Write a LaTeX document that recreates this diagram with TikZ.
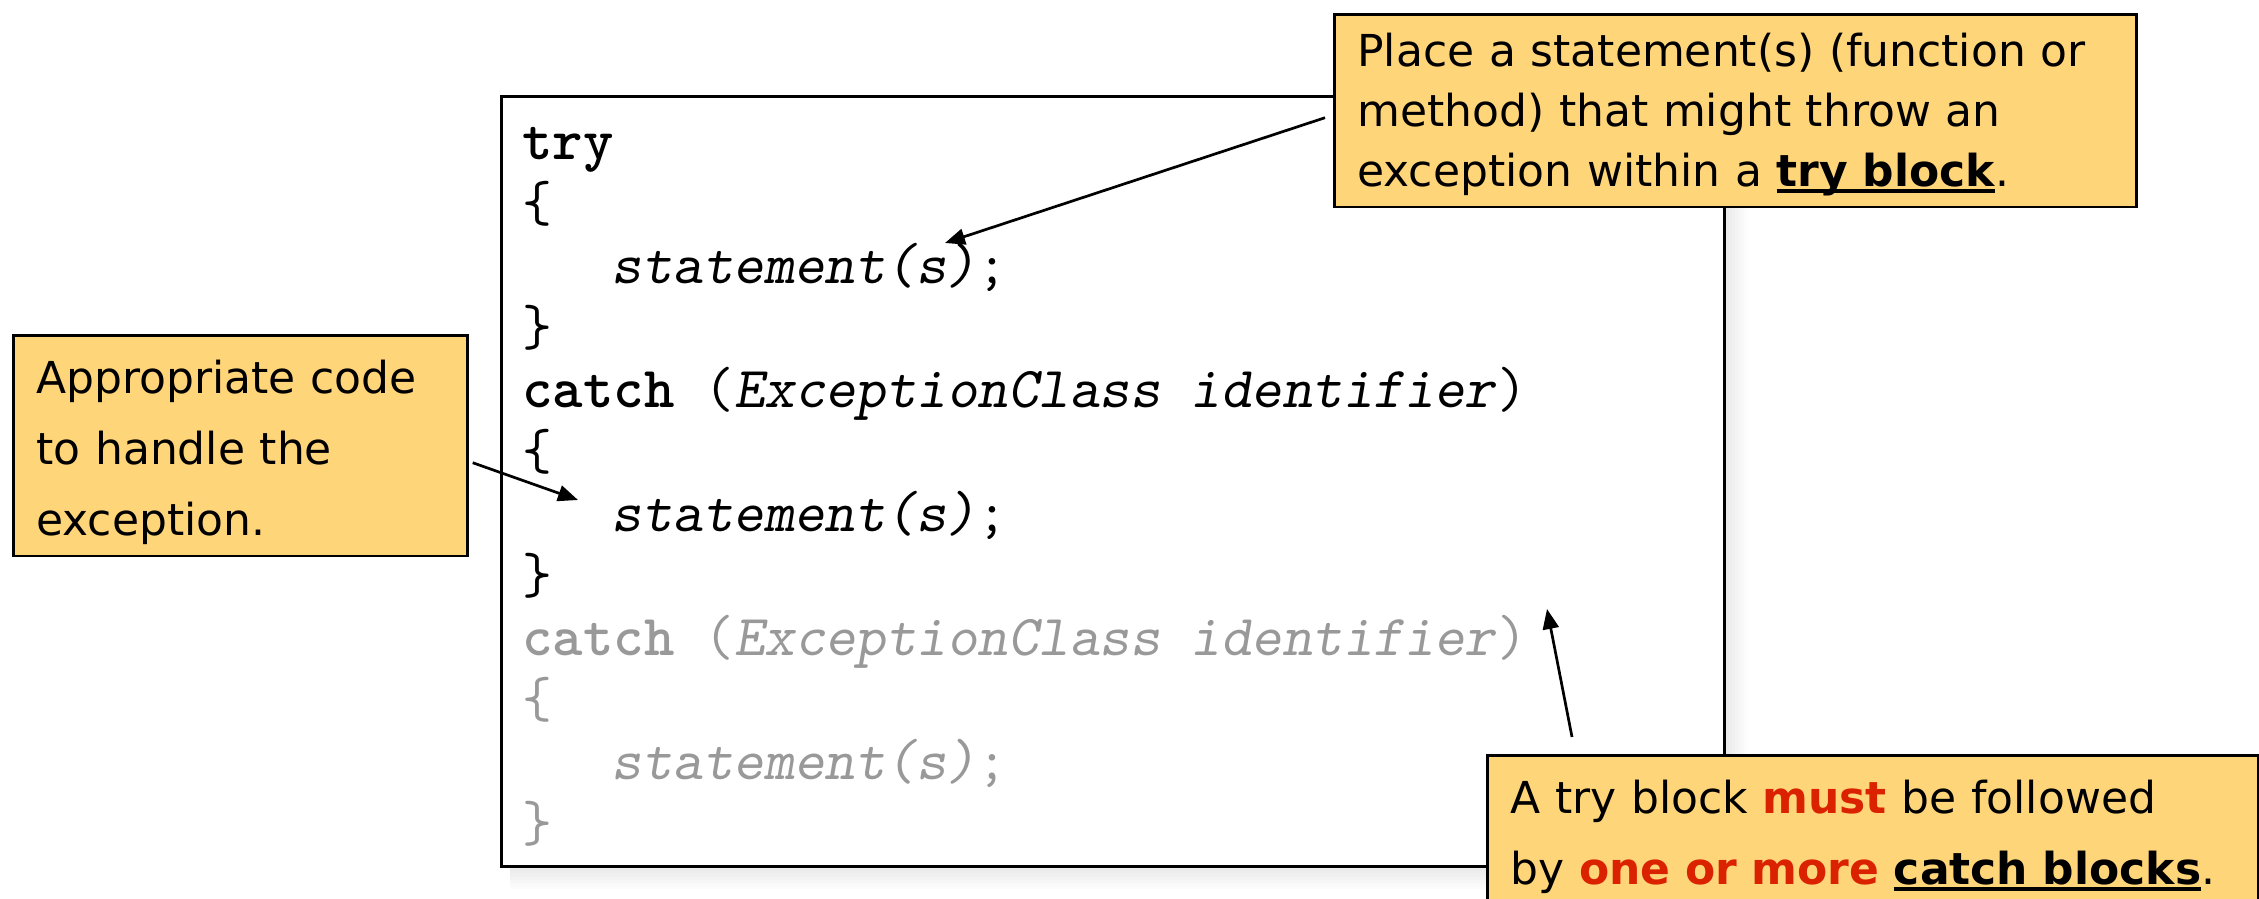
\documentclass[tikz,border=0pt]{standalone}
\usepackage{fontspec}
\newfontfamily\notefont{DejaVu Sans}
\usetikzlibrary{arrows.meta}

\definecolor{notefill}{RGB}{255,213,122}
\definecolor{notered}{RGB}{218,34,0}
\definecolor{codegray}{RGB}{153,153,153}

% bold text with a thick underline
\newcommand{\ulbf}[1]{\setbox0\hbox{\bfseries #1}\dp0=0pt\vtop{\box0\kern2.5pt\hrule height 4pt}}

\begin{document}
\begin{tikzpicture}[
            x=1pt, y=1pt,
            codebox/.style={draw, line width=3pt, fill=white, inner sep=0pt,
            minimum width=1223pt, minimum height=770pt},
            codeline/.style={anchor=base west, inner sep=0pt,
            font=\ttfamily\fontsize{58}{62}\selectfont},
            grayline/.style={codeline, text=codegray},
            note/.style={draw, line width=2.7pt, fill=notefill, anchor=north west,
            inner xsep=23pt, inner ysep=11.6pt, align=left,
            font=\notefont\fontsize{44}{71}\selectfont},
            pointer/.style={line width=2.7pt, -{Triangle[length=20pt,width=16pt]}}
            ]
            \useasboundingbox (0,0) rectangle (2259,899);
            \clip (0,0) rectangle (2259,899);
            \fill[white] (0,0) rectangle (2259,899);

            % shadow and code box
            \node[codebox, draw=none, fill=none] (code) at (1112.5,417) {};
            \foreach \k in {3,6,...,21}
                \fill[black, opacity=0.012] ([shift={(10,-\k)}]code.south west)
                    rectangle ([shift={(\k,-10)}]code.north east);
            \node[codebox] at (code) {};

            % code lines
            \foreach \txt [count=\i] in {{\textbf{try}}, {\{},
                {\hphantom{xxx}\textsl{statement(s)};}, {\}},
                {\textbf{catch} (\textsl{ExceptionClass identifier})}, {\{},
                {\hphantom{xxx}\textsl{statement(s)};}, {\}}}
                \node[codeline] (l\i) at (522,{739-62*(\i-1)}) {\txt};
            \foreach \txt [count=\i from 9] in {
                {\textbf{catch} (\textsl{ExceptionClass identifier})}, {\{},
                {\hphantom{xxx}\textsl{statement(s)};}, {\}}}
                \node[grayline] (l\i) at (522,{739-62*(\i-1)}) {\txt};

            % notes
            \node[note, text width=756pt, font=\notefont\fontsize{44}{60}\selectfont]
                (tcall) at (1333,886) {\rule{0pt}{40.4pt}Place a statement(s) (function or\\
                method) that might throw an\\ exception within a \ulbf{try block}.};
            \node[note, text width=408pt] (lcall) at (12,565)
                {\rule{0pt}{46.4pt}Appropriate code\\ to handle the\\ exception.};
            \node[note, text width=725pt] (bcall) at (1486,145)
                {\rule{0pt}{46.4pt}A try block \textcolor{notered}{\bfseries must} be followed\\
                by \textcolor{notered}{\bfseries one or more} \ulbf{catch blocks}.};

            % pointers
            \coordinate (tip1) at (945,656);
            \coordinate (tip2) at (578,399);
            \coordinate (tip3) at (1547,290);
            \draw[pointer] ([shift={(-8,-7)}]tcall.west) -- (tip1);
            \draw[pointer] ([shift={(4,-17)}]lcall.east) -- (tip2);
            \draw[pointer] ([shift={(86,17)}]bcall.north west) -- (tip3);

        \end{tikzpicture}
\end{document}
